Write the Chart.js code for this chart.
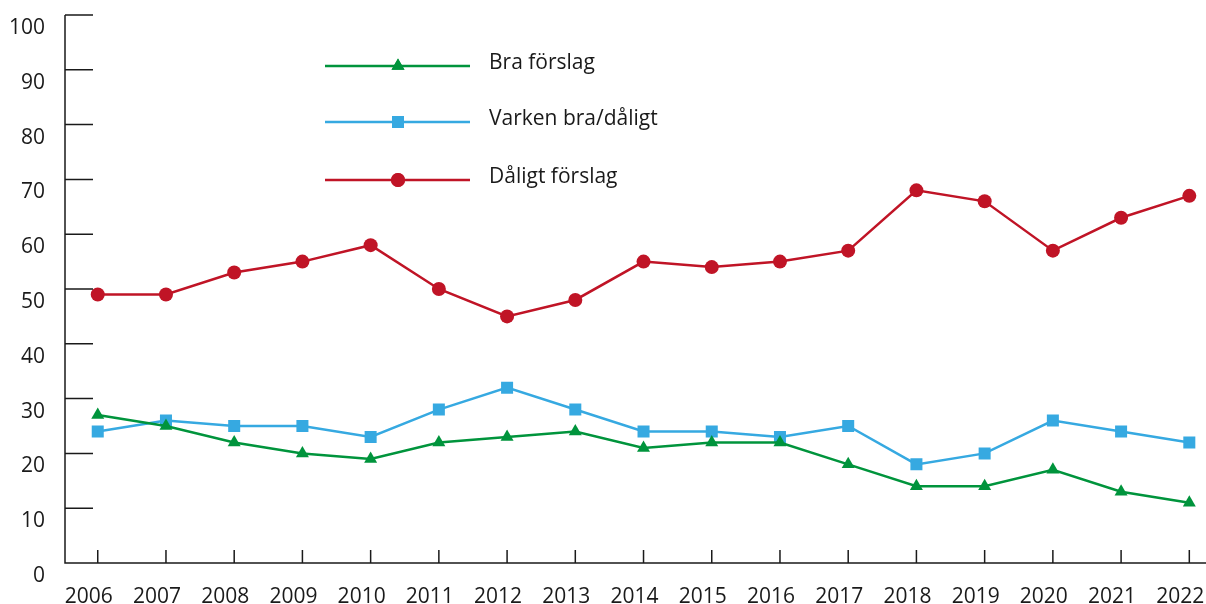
<!DOCTYPE html>
<html>
<head>
<meta charset="utf-8">
<script src="https://cdn.jsdelivr.net/npm/chart.js@4/dist/chart.umd.min.js"></script>
<style>
  html, body { margin: 0; padding: 0; background: #fff; }
  #wrap { width: 1206px; height: 604px; }
</style>
</head>
<body>
<div id="wrap"><canvas id="c"></canvas></div>
<script>
const years = [2006, 2007, 2008, 2009, 2010, 2011, 2012, 2013, 2014, 2015, 2016, 2017, 2018, 2019, 2020, 2021, 2022];
const braForslag = [27, 25, 22, 20, 19, 22, 23, 24, 21, 22, 22, 18, 14, 14, 17, 13, 11];
const varkenBraDaligt = [24, 26, 25, 25, 23, 28, 32, 28, 24, 24, 23, 25, 18, 20, 26, 24, 22];
const daligtForslag = [49, 49, 53, 55, 58, 50, 45, 48, 55, 54, 55, 57, 68, 66, 57, 63, 67];
const yTicks = [0, 10, 20, 30, 40, 50, 60, 70, 80, 90, 100];

const green = 'rgb(0, 148, 60)';
const blue = 'rgb(54, 169, 225)';
const red = 'rgb(192, 20, 38)';
const ink = '#1a1a1a';

function pts(vals) {
    return vals.map((v, i) => ({ x: years[i], y: v }));
}

function series(label, vals, color, style, radius) {
    return {
        label: label,
        data: pts(vals),
        borderColor: color,
        backgroundColor: color,
        borderWidth: 2.5,
        pointStyle: style,
        pointRadius: radius,
        pointBorderWidth: 0,
        pointBackgroundColor: color,
        tension: 0,
        fill: false
    };
}

// axis lines, inward tick marks and a line+marker legend
const axesPlugin = {
    id: 'axesPlugin',
    afterDraw(chart) {
        const ctx = chart.ctx;
        const area = chart.chartArea;
        const xs = chart.scales.x;
        const ys = chart.scales.y;
        ctx.save();
        ctx.strokeStyle = ink;
        ctx.lineWidth = 1.5;
        ctx.beginPath();
        ctx.moveTo(area.left, area.top);
        ctx.lineTo(area.left, area.bottom);
        ctx.lineTo(chart.width, area.bottom);
        yTicks.forEach(v => {
            const y = ys.getPixelForValue(v);
            ctx.moveTo(area.left, y);
            ctx.lineTo(area.left + 28, y);
        });
        years.forEach(v => {
            const x = xs.getPixelForValue(v);
            ctx.moveTo(x, area.bottom);
            ctx.lineTo(x, area.bottom - 13);
        });
        ctx.stroke();

        const rows = [66, 122, 180];
        chart.data.datasets.forEach((ds, i) => {
            const y = rows[i];
            ctx.strokeStyle = ds.borderColor;
            ctx.lineWidth = 2.5;
            ctx.beginPath();
            ctx.moveTo(325, y);
            ctx.lineTo(470, y);
            ctx.stroke();
            ctx.fillStyle = ds.borderColor;
            Chart.helpers.drawPoint(ctx, {
                pointStyle: ds.pointStyle,
                radius: ds.pointRadius,
                rotation: 0,
                borderWidth: 0
            }, 398, y);
            ctx.fill();
            ctx.fillStyle = ink;
            ctx.font = '21px "Open Sans"';
            ctx.textBaseline = 'middle';
            ctx.textAlign = 'left';
            ctx.fillText(ds.label, 489, y - 3);
        });
        ctx.restore();
    }
};

new Chart(document.getElementById('c'), {
    type: 'line',
    data: {
        datasets: [
            series('Bra förslag', braForslag, green, 'triangle', 7.5),
            series('Varken bra/dåligt', varkenBraDaligt, blue, 'rect', 8.5),
            series('Dåligt förslag', daligtForslag, red, 'circle', 7)
        ]
    },
    options: {
        responsive: true,
        maintainAspectRatio: false,
        animation: false,
        layout: { padding: { top: 15, left: 0, right: 0, bottom: 0 } },
        plugins: {
            legend: { display: false },
            tooltip: { enabled: false }
        },
        scales: {
            x: {
                type: 'linear',
                min: 2005.52,
                max: 2022.12,
                afterBuildTicks(scale) {
                    scale.ticks = years.map(v => ({ value: v }));
                },
                afterFit(scale) {
                    scale.height = 41;
                    scale.paddingLeft = 0;
                    scale.paddingRight = 0;
                },
                grid: { display: false, drawTicks: false },
                border: { display: false },
                ticks: {
                    color: ink,
                    font: { family: 'Open Sans', size: 21 },
                    padding: 21,
                    labelOffset: -9,
                    maxRotation: 0,
                    autoSkip: false,
                    callback: v => String(v)
                }
            },
            y: {
                min: 0,
                max: 100,
                afterBuildTicks(scale) {
                    scale.ticks = yTicks.map(v => ({ value: v }));
                },
                afterFit(scale) {
                    scale.width = 65;
                    scale.paddingTop = 0;
                    scale.paddingBottom = 0;
                },
                grid: { display: false, drawTicks: false },
                border: { display: false },
                ticks: {
                    color: ink,
                    font: { family: 'Open Sans', size: 21 },
                    padding: 20,
                    labelOffset: 13,
                    callback: v => String(v)
                }
            }
        }
    },
    plugins: [axesPlugin]
});
</script>
</body>
</html>
